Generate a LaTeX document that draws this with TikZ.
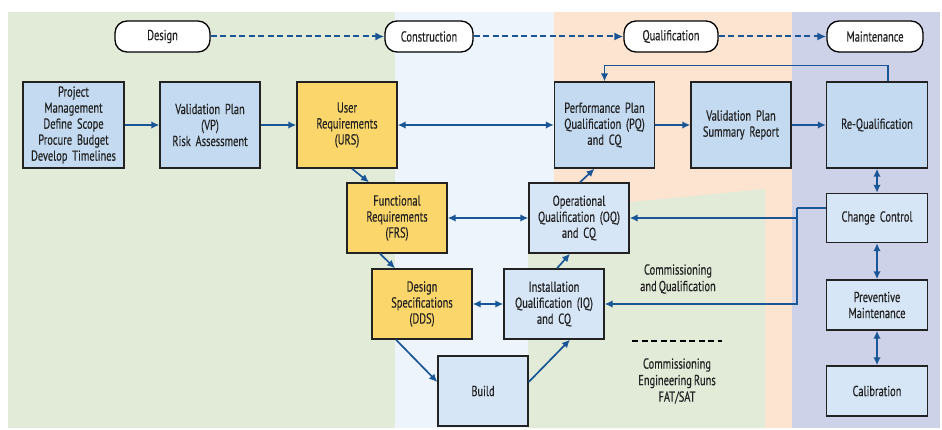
\documentclass[tikz,border=0pt]{standalone}
\usepackage{fontspec}
\setmainfont{PT Sans}[FakeStretch=0.72, FakeBold=0.35, WordSpace=0.75]
\usetikzlibrary{arrows.meta}

\definecolor{bgGreen}{HTML}{E1EBD7}
\definecolor{bgBlue}{HTML}{EDF4FC}
\definecolor{bgPeach}{HTML}{FCE4D1}
\definecolor{bgLav}{HTML}{CED2E8}
\definecolor{boxBlue}{HTML}{C3DAF1}
\definecolor{boxPale}{HTML}{D6E6F6}
\definecolor{boxYellow}{HTML}{FBD66B}
\definecolor{flowBlue}{HTML}{1A5696}
\definecolor{edgeDark}{HTML}{222222}
\definecolor{inkDark}{HTML}{222222}

\tikzset{
  stage/.style={draw=edgeDark, line width=1.4pt, fill=boxBlue, align=center,
    inner sep=1pt, minimum width=100pt, text width=98pt, text=inkDark,
    font=\fontsize{14.5}{16}\selectfont},
  phase/.style={draw=black, line width=1.3pt, fill=white, rounded corners=12pt,
    minimum height=31pt, inner sep=1pt, text=inkDark, font=\fontsize{14.5}{16}\selectfont},
  flow/.style={draw=flowBlue, line width=1.7pt, -{Latex[length=8pt,width=7.5pt]}},
  flow2/.style={draw=flowBlue, line width=1.7pt, {Latex[length=8pt,width=7.5pt]}-{Latex[length=8pt,width=7.5pt]}},
  thinflow/.style={draw=flowBlue, line width=1.3pt, -{Latex[length=8pt,width=7.5pt]}},
  phaseflow/.style={draw=flowBlue, line width=2pt, dash pattern=on 6pt off 3.5pt,
    -{Latex[length=9pt,width=8pt]}},
  note/.style={align=center, text=inkDark, font=\fontsize{14.5}{16.5}\selectfont}
}

\begin{document}
\begin{tikzpicture}[x=1pt,y=-1pt]
\useasboundingbox (0,0) rectangle (942,430);

% coloured phase bands
\fill[bgGreen] (8,12) rectangle (395,428);
\fill[bgBlue] (395,12) rectangle (554,428);
\fill[bgPeach] (554,12) rectangle (792,428);
\fill[bgLav] (792,12) rectangle (940,428);
\fill[bgGreen] (528,212) -- (765,189) -- (765,428) -- (528,428) -- cycle;

% phase labels
\node[phase, minimum width=95pt] (design) at (162.5,36.5) {Design};
\node[phase, minimum width=88pt] (constr) at (429,36.5) {Construction};
\node[phase, minimum width=94pt] (qual) at (671,36.5) {Qualification};
\node[phase, minimum width=96pt] (maint) at (875,36.5) {Maintenance};

\draw[phaseflow] (design) -- (constr);
\draw[phaseflow] (constr) -- (qual);
\draw[phaseflow] (qual) -- (maint);

% top row
\node[stage, minimum width=101pt, minimum height=86pt] (pm) at (73.5,125)
  {Project\\Management\\Define Scope\\Procure Budget\\Develop Timelines};
\node[stage, minimum height=86pt] (vp) at (210,125)
  {Validation Plan\\(VP)\\Risk Assessment};
\node[stage, minimum height=86pt, fill=boxYellow] (urs) at (347,125)
  {User\\Requirements\\(URS)};
\node[stage, minimum height=86pt] (pq) at (604.5,125)
  {Performance Plan\\Qualification (PQ)\\and CQ};
\node[stage, minimum height=86pt] (vpsr) at (741,125)
  {Validation Plan\\Summary Report};
\node[stage, minimum width=101pt, minimum height=86pt] (req) at (877,125)
  {Re-Qualification};

% V-model body
\node[stage, minimum height=70pt, fill=boxYellow] (frs) at (397,218)
  {Functional\\Requirements\\(FRS)};
\node[stage, minimum height=70pt, fill=boxPale] (oq) at (579,218)
  {Operational\\Qualification (OQ)\\and CQ};
\node[stage, minimum height=70pt, fill=boxYellow] (dds) at (422,304)
  {Design\\Specifications\\(DDS)};
\node[stage, minimum height=70pt, fill=boxPale] (iq) at (554,304)
  {Installation\\Qualification (IQ)\\and CQ};
\node[stage, minimum width=90pt, text width=88pt, minimum height=70pt, fill=boxPale] (build) at (483,391)
  {Build};

% maintenance column
\node[stage, minimum width=101pt, minimum height=49pt, fill=boxPale] (cc) at (877,218)
  {Change Control};
\node[stage, minimum width=101pt, minimum height=50pt, fill=boxPale] (pmaint) at (877,305)
  {Preventive\\Maintenance};
\node[stage, minimum width=101pt, minimum height=50pt, fill=boxPale] (cal) at (877,391)
  {Calibration};

% notes
\node[note] (cqnote) at (678,279) {Commissioning\\and Qualification};
\node[note] (cernote) at (677,381) {Commissioning\\Engineering Runs\\FAT/SAT};
\coordinate (dashL) at (632,341);
\coordinate (dashR) at (722,341);
\draw[black, line width=1.6pt, dash pattern=on 6pt off 3.5pt] (dashL) -- (dashR);

% top-row flow
\draw[flow] (pm) -- (vp);
\draw[flow] (vp) -- (urs);
\draw[flow2] (urs) -- (pq);
\draw[flow] (pq) -- (vpsr);
\draw[flow] (vpsr) -- (req);
\draw[thinflow] ([xshift=11pt]req.north) -- ++(0,-16) -| (pq.north);

% down the left leg, across and up the right leg
\draw[flow] ([xshift=5pt]urs.south) -- ([xshift=-28pt]frs.north);
\draw[flow2] (frs) -- (oq);
\draw[flow] ([xshift=-17pt]frs.south) -- ([xshift=-27pt]dds.north);
\draw[flow2] (dds) -- (iq);
\draw[flow] ([xshift=-26pt]dds.south) -- ([yshift=9pt]build.west);
\draw[flow] ([yshift=9pt]build.east) -- ([xshift=16pt]iq.south);
\draw[flow] ([xshift=3pt]iq.north) -- ([xshift=-9pt]oq.south);
\draw[flow] ([xshift=1pt]oq.north) -- ([xshift=-10pt]pq.south);

% change control feeds back into IQ and OQ
\coordinate (ccjoin) at (797,208);
\draw[flowBlue, line width=1.3pt] ([yshift=10pt]cc.west) -- (ccjoin);
\draw[thinflow] (ccjoin) |- (iq.east);
\draw[thinflow] (ccjoin |- oq.east) -- (oq.east);

% maintenance column links
\draw[flow2] (req) -- (cc);
\draw[flow2] (cc) -- (pmaint);
\draw[flow2] (pmaint) -- (cal);
\end{tikzpicture}
\end{document}
